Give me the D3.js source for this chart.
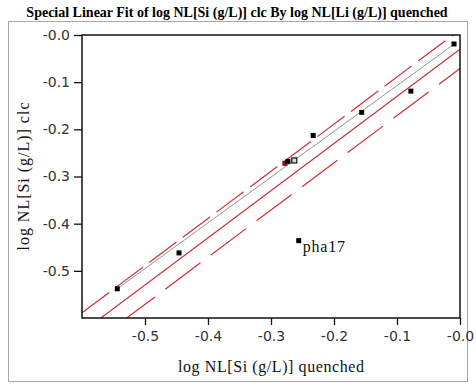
<!DOCTYPE html>
<html>
<head>
<meta charset="utf-8">
<script src="https://cdn.jsdelivr.net/npm/d3@7"></script>
<style>
  html, body { margin: 0; padding: 0; background: #fff; }
  svg { display: block; }
</style>
</head>
<body>
<svg id="chart" width="476" height="390"></svg>
<script>
// Measured samples: quenched (x) vs calculated (y), both log NL[Si (g/L)]
const sampleX = [-0.544, -0.446, -0.278, -0.273, -0.263, -0.233, -0.156, -0.078, -0.0095, -0.256];
const sampleY = [-0.538, -0.462, -0.272, -0.268, -0.266, -0.213, -0.164, -0.119, -0.019, -0.436];
const sampleLabel = ["", "", "", "", "", "", "", "", "", "pha17"];
const sampleStyle = ["fill", "fill", "hilite", "fill", "open", "fill", "fill", "fill", "fill", "fill"];

// Special fit (slope held at 1) and its individual confidence band
const fitSlope = 1.0;
const fitIntercept = -0.030;
const indivHalfWidth = 0.041;

// Reference line over the sample range
const refSlope = 0.97;
const refIntercept = -0.0103;

const xTickValues = [-0.5, -0.4, -0.3, -0.2, -0.1, 0.0];
const xTickLabels = ["-0.5", "-0.4", "-0.3", "-0.2", "-0.1", "-0.0"];
const yTickValues = [-0.5, -0.4, -0.3, -0.2, -0.1, 0.0];
const yTickLabels = ["-0.5", "-0.4", "-0.3", "-0.2", "-0.1", "-0.0"];

const titleText = "Special Linear Fit of log NL[Si (g/L)] clc By log NL[Li (g/L)] quenched";
const xTitle = "log NL[Si (g/L)] quenched";
const yTitle = "log NL[Si (g/L)] clc";

const svg = d3.select("#chart");
const plot = { left: 82, right: 460, top: 35, bottom: 318 };

const x = d3.scaleLinear().domain([-0.6, 0]).range([plot.left, plot.right]);
const y = d3.scaleLinear().domain([-0.6, 0]).range([plot.bottom, plot.top]);

const serif = "'Liberation Serif', 'Times New Roman', serif";
const sans = "'DejaVu Sans', Verdana, sans-serif";

// outer panel
svg.append("rect")
  .attr("x", 8.5).attr("y", 21.5).attr("width", 459).attr("height", 360)
  .attr("fill", "none").attr("stroke", "#a8a8a8").attr("stroke-width", 1);

// title
svg.append("text")
  .attr("x", 237).attr("y", 17)
  .attr("text-anchor", "middle")
  .attr("font-family", serif)
  .attr("font-weight", "bold")
  .attr("font-size", 14)
  .attr("fill", "#000")
  .text(titleText);

svg.append("defs").append("clipPath").attr("id", "plotClip")
  .append("rect")
  .attr("x", plot.left).attr("y", plot.top)
  .attr("width", plot.right - plot.left).attr("height", plot.bottom - plot.top);

const inner = svg.append("g").attr("clip-path", "url(#plotClip)");

const lineGen = d3.line().x(d => x(d[0])).y(d => y(d[1]));
const fullX = x.domain();

function straight(slope, intercept, xs) {
  return xs.map(v => [v, slope * v + intercept]);
}

// individual confidence curves
inner.append("path")
  .attr("d", lineGen(straight(fitSlope, fitIntercept + indivHalfWidth, fullX)))
  .attr("fill", "none").attr("stroke", "#cc2f36").attr("stroke-width", 1.2)
  .attr("stroke-dasharray", "34,8");
inner.append("path")
  .attr("d", lineGen(straight(fitSlope, fitIntercept - indivHalfWidth, fullX)))
  .attr("fill", "none").attr("stroke", "#cc2f36").attr("stroke-width", 1.2)
  .attr("stroke-dasharray", "44,13")
  .attr("stroke-dashoffset", 10);

// fitted line
inner.append("path")
  .attr("d", lineGen(straight(fitSlope, fitIntercept, fullX)))
  .attr("fill", "none").attr("stroke", "#cc2f36").attr("stroke-width", 1.2);

// reference line across the sample range
const xr = d3.extent(sampleX.filter((v, i) => !sampleLabel[i]));
inner.append("path")
  .attr("d", lineGen(straight(refSlope, refIntercept, xr)))
  .attr("fill", "none").attr("stroke", "#8c9a90").attr("stroke-width", 1);

// sample markers
const pts = sampleX.map((v, i) => ({ x: v, y: sampleY[i], label: sampleLabel[i], style: sampleStyle[i] }));
const ms = 5;
inner.selectAll("rect.pt").data(pts).enter().append("rect")
  .attr("class", "pt")
  .attr("x", d => x(d.x) - ms / 2)
  .attr("y", d => y(d.y) - ms / 2)
  .attr("width", ms).attr("height", ms)
  .attr("fill", d => d.style === "hilite" ? "#7a1010" : d.style === "open" ? "#d8d8d8" : "#000")
  .attr("stroke", d => d.style === "open" ? "#111" : "none")
  .attr("stroke-width", 1.2);

svg.selectAll("text.ptlabel").data(pts.filter(d => d.label)).enter().append("text")
  .attr("class", "ptlabel")
  .attr("x", d => x(d.x) + 4)
  .attr("y", d => y(d.y) + 11)
  .attr("font-family", serif)
  .attr("font-size", 16)
  .attr("letter-spacing", 0.8)
  .attr("fill", "#111")
  .text(d => d.label);

// axes
const xAxis = d3.axisBottom(x).tickValues(xTickValues)
  .tickFormat((d, i) => xTickLabels[i]).tickSize(7).tickSizeOuter(0).tickPadding(6);
const gx = svg.append("g").attr("transform", `translate(0,${plot.bottom})`).call(xAxis);
gx.select(".domain").remove();
gx.selectAll("line").attr("stroke", "#111").attr("stroke-width", 1.3);
gx.selectAll("text").attr("font-family", sans)
  .attr("font-size", 14).attr("fill", "#333");

const yAxis = d3.axisLeft(y).tickValues(yTickValues)
  .tickFormat((d, i) => yTickLabels[i]).tickSize(8).tickSizeOuter(0).tickPadding(4);
const gy = svg.append("g").attr("transform", `translate(${plot.left},0)`).call(yAxis);
gy.select(".domain").remove();
gy.selectAll("line").attr("stroke", "#111").attr("stroke-width", 1.3);
gy.selectAll("text").attr("font-family", sans)
  .attr("font-size", 14).attr("fill", "#333");

// plot frame
svg.append("rect")
  .attr("x", plot.left).attr("y", plot.top)
  .attr("width", plot.right - plot.left).attr("height", plot.bottom - plot.top)
  .attr("fill", "none").attr("stroke", "#111").attr("stroke-width", 1.5);

// axis titles
svg.append("text")
  .attr("x", (plot.left + plot.right) / 2).attr("y", 372)
  .attr("text-anchor", "middle")
  .attr("font-family", serif)
  .attr("font-size", 16).attr("fill", "#111")
  .attr("textLength", 186).attr("lengthAdjust", "spacing")
  .text(xTitle);

svg.append("text")
  .attr("transform", `translate(29,${(plot.top + plot.bottom) / 2}) rotate(-90)`)
  .attr("text-anchor", "middle")
  .attr("font-family", serif)
  .attr("font-size", 16).attr("fill", "#111")
  .attr("textLength", 148).attr("lengthAdjust", "spacing")
  .text(yTitle);
</script>
</body>
</html>
